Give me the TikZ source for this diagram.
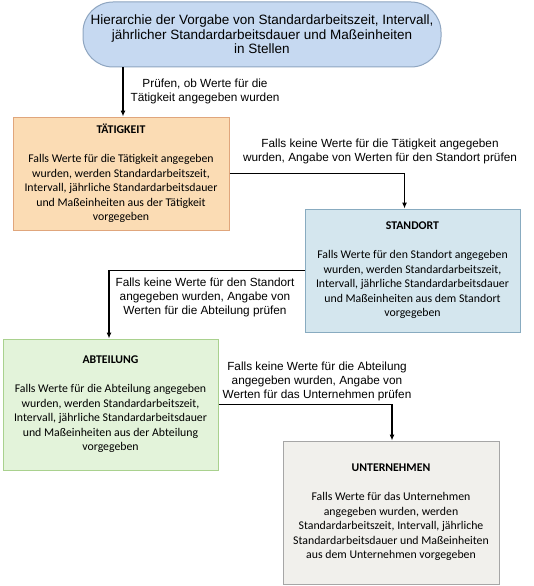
\documentclass[tikz,border=0pt]{standalone}
\usepackage{fontspec}
\setmainfont{Liberation Sans}
\newfontfamily\boxfont{Carlito}
\usetikzlibrary{arrows.meta}

\definecolor{topfill}{HTML}{C6D9F1}
\definecolor{topline}{HTML}{8EA5C0}
\definecolor{tatfill}{HTML}{FBDCB4}
\definecolor{tatline}{HTML}{E0A67C}
\definecolor{stafill}{HTML}{D4E6EE}
\definecolor{staline}{HTML}{88ABC0}
\definecolor{abtfill}{HTML}{E3F3DA}
\definecolor{abtline}{HTML}{A9D18E}
\definecolor{untfill}{HTML}{F1F0EC}
\definecolor{untline}{HTML}{A6A6A6}

\tikzset{
  levelbox/.style={draw=#1line, fill=#1fill, line width=1pt, align=center,
    font=\boxfont\fontsize{11.8}{14.5}\selectfont, inner sep=0pt},
  note/.style={align=center, font=\fontsize{11.8}{14}\selectfont, inner sep=0pt},
  arr/.style={-{Latex[length=6pt,width=5pt]}, line width=1.1pt}
}

\begin{document}
\begin{tikzpicture}[x=1pt,y=-1pt]
    \useasboundingbox[fill=white] (0,0) rectangle (533,586);
    \node[draw=topline, fill=topfill, line width=1pt, rounded corners=30pt,
      minimum width=358pt, minimum height=65pt, align=center, inner sep=0pt,
      font=\fontsize{13.5}{14.5}\selectfont] (top) at (262,34.5)
      {Hierarchie der Vorgabe von Standardarbeitszeit, Intervall,\\
       jährlicher Standardarbeitsdauer und Maßeinheiten\\in Stellen};
    \node[levelbox=tat, minimum width=216pt, minimum height=113pt] (tat) at (121,173.5)
      {\textbf{TÄTIGKEIT}\\[14.5pt]
       Falls Werte für die Tätigkeit angegeben\\wurden, werden Standardarbeitszeit,\\
       Intervall, jährliche Standardarbeitsdauer\\und Maßeinheiten aus der Tätigkeit\\vorgegeben};
    \node[levelbox=sta, minimum width=215pt, minimum height=123pt] (sta) at (412.5,270.5)
      {\textbf{STANDORT}\\[14.5pt]
       Falls Werte für den Standort angegeben\\wurden, werden Standardarbeitszeit,\\
       Intervall, jährliche Standardarbeitsdauer\\und Maßeinheiten aus dem Standort\\vorgegeben};
    \node[levelbox=abt, minimum width=215pt, minimum height=131pt] (abt) at (110.5,404.5)
      {\textbf{ABTEILUNG}\\[14.5pt]
       Falls Werte für die Abteilung angegeben\\wurden, werden Standardarbeitszeit,\\
       Intervall, jährliche Standardarbeitsdauer\\und Maßeinheiten aus der Abteilung\\vorgegeben};
    \node[levelbox=unt, minimum width=216pt, minimum height=143pt] (unt) at (391,512.5)
      {\textbf{UNTERNEHMEN}\\[14.5pt]
       Falls Werte für das Unternehmen\\angegeben wurden, werden\\
       Standardarbeitszeit, Intervall, jährliche\\Standardarbeitsdauer und Maßeinheiten\\aus dem Unternehmen vorgegeben};
    % labels of the checks
    \node[note] (chk1) at (205,91) {Prüfen, ob Werte für die\\Tätigkeit angegeben wurden};
    \node[note] (chk2) at (380,151) {Falls keine Werte für die Tätigkeit angegeben\\wurden, Angabe von Werten für den Standort prüfen};
    \node[note] (chk3) at (205,297) {Falls keine Werte für den Standort\\angegeben wurden, Angabe von\\Werten für die Abteilung prüfen};
    \node[note] (chk4) at (317,381) {Falls keine Werte für die Abteilung\\angegeben wurden, Angabe von\\Werten für das Unternehmen prüfen};
    % connectors
    \draw[arr] ([xshift=2pt]top.south -| tat.north) -- ([xshift=2pt]tat.north);
    \draw[arr] (tat.east) -| ([xshift=-8pt]sta.north);
    \draw[arr] (sta.west) -| ([xshift=-1.5pt]abt.north);
    \draw[arr] (abt.east) -| ([xshift=1pt]unt.north);
\end{tikzpicture}
\end{document}
